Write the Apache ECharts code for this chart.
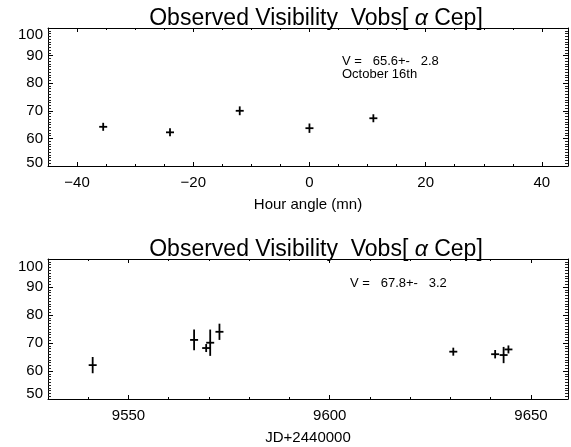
<!DOCTYPE html>
<html>
<head>
<meta charset="utf-8">
<script src="https://cdn.jsdelivr.net/npm/echarts@6/dist/echarts.min.js"></script>
<style>
html,body{margin:0;padding:0;background:#fff;}
#chart{width:571px;height:447px;}
</style>
</head>
<body>
<div id="chart"></div>
<script>
// ---- Data ----
const hourAngle = [-35.5, -24, -12, 0, 11];
const visTop    = [64.2, 62.2, 70.0, 63.7, 67.3];
const errTop    = [1.3, 1.2, 1.6, 1.7, 1.4];

const jdDays    = [9541.1, 9566.3, 9569.3, 9570.3, 9572.6, 9630.7, 9641.1, 9643.2, 9644.4];
const visBot    = [62.1, 71.1, 68.2, 70.1, 74.0, 66.9, 66.0, 65.7, 67.7];
const errBot    = [2.9, 3.7, 1.2, 4.7, 2.9, 1.3, 1.5, 2.9, 1.2];

const topXTicks = [-40, -20, 0, 20, 40];
const botXTicks = [9550, 9600, 9650];
const yTicks    = [50, 60, 70, 80, 90, 100];

const titleText = 'Observed Visibility  Vobs[ {a|α} Cep]';
const topNote1 = 'V =   65.6+-   2.8';
const topNote2 = 'October 16th';
const botNote1 = 'V =   67.8+-   3.2';
const topXName = 'Hour angle (mn)';
const botXName = 'JD+2440000';

// ---- Chart ----
const FONT = 'Liberation Sans, Arial, Helvetica, sans-serif';
const BLACK = '#000';
const chart = echarts.init(document.getElementById('chart'), null, {renderer: 'canvas'});

function crossSeries(xi, yi, xs, ys, es) {
  return {
    type: 'custom',
    xAxisIndex: xi, yAxisIndex: yi,
    clip: false,
    data: xs.map((x, i) => [x, ys[i], es[i]]),
    renderItem: function (params, api) {
      const x = api.value(0), y = api.value(1), e = api.value(2);
      const c = api.coord([x, y]);
      const t = api.coord([x, y + e]);
      const b = api.coord([x, y - e]);
      const arm = 4;
      const y1 = Math.min(t[1], c[1] - arm);
      const y2 = Math.max(b[1], c[1] + arm);
      const st = {stroke: BLACK, lineWidth: 1.8};
      return {type: 'group', children: [
        {type: 'line', shape: {x1: c[0] - arm, y1: c[1], x2: c[0] + arm, y2: c[1]}, style: st},
        {type: 'line', shape: {x1: c[0], y1: y1, x2: c[0], y2: y2}, style: st}
      ]};
    }
  };
}

function xAxes(grid, min, max, minorInt, majors, labelStep, name, nameGap) {
  const line = {show: true, onZero: false, lineStyle: {color: BLACK, width: 1}};
  const noLine = {show: false, onZero: false};
  const fmt = v => (Math.abs(v % labelStep) < 1e-9 ? String(v).replace('-', '\u2212') : '');
  return [
    {gridIndex: grid, type: 'value', position: 'bottom', min: min, max: max, interval: minorInt,
     axisLine: line, splitLine: {show: false},
     axisTick: {show: true, inside: true, length: 2, lineStyle: {color: BLACK}},
     axisLabel: {show: true, interval: 0, formatter: fmt, color: BLACK, fontSize: 15, fontFamily: FONT, margin: 9,
                 showMinLabel: true, showMaxLabel: true, hideOverlap: false},
     name: name, nameLocation: 'middle', nameGap: nameGap,
     nameTextStyle: {color: BLACK, fontSize: 15, fontFamily: FONT}},
    {gridIndex: grid, type: 'value', position: 'bottom', min: min, max: max,
     axisLine: noLine, splitLine: {show: false}, axisLabel: {show: false},
     axisTick: {show: true, inside: true, length: 4, customValues: majors, lineStyle: {color: BLACK}}},
    {gridIndex: grid, type: 'value', position: 'top', min: min, max: max, interval: minorInt,
     axisLine: line, splitLine: {show: false}, axisLabel: {show: false},
     axisTick: {show: true, inside: true, length: 2, lineStyle: {color: BLACK}}},
    {gridIndex: grid, type: 'value', position: 'top', min: min, max: max,
     axisLine: noLine, splitLine: {show: false}, axisLabel: {show: false},
     axisTick: {show: true, inside: true, length: 4, customValues: majors, lineStyle: {color: BLACK}}}
  ];
}

function yAxes(grid, hiPad, loPad) {
  const line = {show: true, onZero: false, lineStyle: {color: BLACK, width: 1}};
  const base = {gridIndex: grid, type: 'value', min: yTicks[0], max: yTicks[yTicks.length - 1], interval: 10,
    axisLine: line, splitLine: {show: false}, minorSplitLine: {show: false},
    axisTick: {show: true, inside: true, length: 5, lineStyle: {color: BLACK}},
    minorTick: {show: true, splitNumber: 10, length: 3, lineStyle: {color: '#222', width: 1}}};
  return [
    Object.assign({}, base, {position: 'left',
      axisLabel: {show: true, color: BLACK, fontSize: 15, fontFamily: FONT, margin: 5,
        formatter: v => v === 100 ? '{hi|100}' : (v === 50 ? '{lo|50}' : String(v)),
        rich: {hi: {padding: [hiPad, 0, 0, 0], fontSize: 15, fontFamily: FONT, color: BLACK},
               lo: {padding: [0, 0, loPad, 0], fontSize: 15, fontFamily: FONT, color: BLACK}}}}),
    Object.assign({}, base, {position: 'right', axisLabel: {show: false}})
  ];
}

const richTitle = {a: {fontStyle: 'italic', fontSize: 23, fontFamily: FONT, color: BLACK}};
const grids = [
  {left: 48, right: 1, top: 28, height: 138},
  {left: 48, right: 1, top: 259, height: 140}
];

const option = {
  animation: false,
  backgroundColor: '#fff',
  title: [
    {text: titleText, left: 311, top: 14, textAlign: 'center', textVerticalAlign: 'middle',
     textStyle: {fontSize: 23, fontWeight: 'normal', color: BLACK, fontFamily: FONT, rich: richTitle}},
    {text: titleText, left: 311, top: 245, textAlign: 'center', textVerticalAlign: 'middle',
     textStyle: {fontSize: 23, fontWeight: 'normal', color: BLACK, fontFamily: FONT, rich: richTitle}}
  ],
  grid: grids,
  xAxis: xAxes(0, -45, 44.5, 5, topXTicks, 20, topXName, 31)
    .concat(xAxes(1, 9530, 9659.2, 10, botXTicks, 50, botXName, 31)),
  yAxis: yAxes(0, 14, 6).concat(yAxes(1, 16, 10)),
  graphic: [
    {type: 'text', left: 342, top: 55, style: {text: topNote1 + '\n' + topNote2, fontSize: 13, lineHeight: 13, fontFamily: FONT, fill: BLACK}},
    {type: 'text', left: 350, top: 277, style: {text: botNote1, fontSize: 13, fontFamily: FONT, fill: BLACK}}
  ],
  series: [
    crossSeries(0, 0, hourAngle, visTop, errTop),
    crossSeries(4, 2, jdDays, visBot, errBot)
  ]
};
chart.setOption(option);
</script>
</body>
</html>
